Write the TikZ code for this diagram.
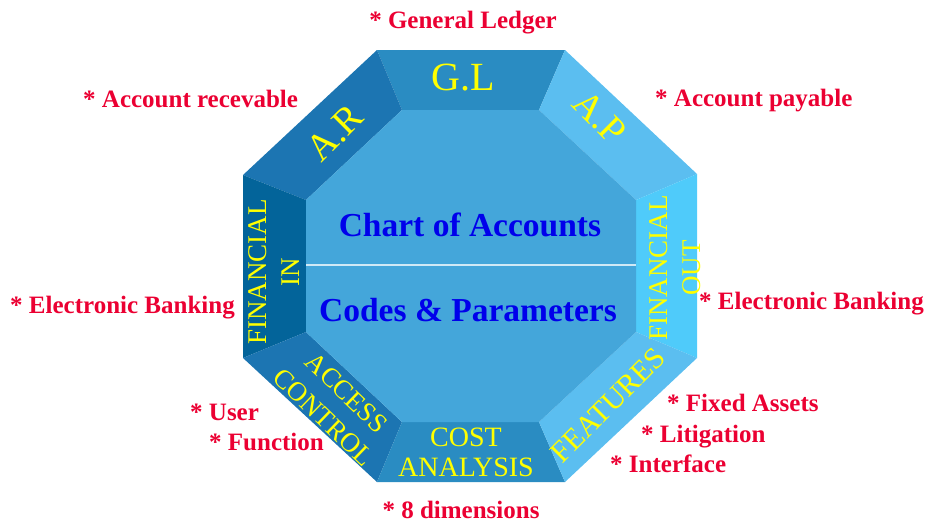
\documentclass[tikz,border=0pt]{standalone}
\usepackage{fontspec}
\setmainfont{Liberation Serif}
\definecolor{red1}{RGB}{235, 0, 50}
\definecolor{yellow1}{RGB}{255, 255, 0}
\definecolor{blue1}{RGB}{0, 0, 235}
\definecolor{panel1}{RGB}{42, 140, 194}
\definecolor{panel2}{RGB}{28, 117, 178}
\definecolor{panel3}{RGB}{91, 190, 240}
\definecolor{panel4}{RGB}{3, 100, 154}
\definecolor{panel5}{RGB}{79, 203, 250}
\definecolor{core1}{RGB}{68, 166, 218}

\begin{document}
\begin{tikzpicture}[x=1pt, y=-1pt,
  note/.style={text=red1, font=\bfseries\fontsize{25}{29}\selectfont, inner sep=0pt, anchor=base west},
  tag/.style={text=yellow1, align=center, inner sep=0pt},
  core/.style={text=blue1, font=\bfseries\fontsize{33.5}{38}\selectfont, inner sep=0pt}]
  \useasboundingbox (0,0) rectangle (926,522);
  % outer and inner corners of the octagon
  \foreach \n/\x/\y in {o1/377/50, o2/565/50, o3/697/174, o4/697/358,
      o5/565/482, o6/377/482, o7/243/358, o8/243/175,
      i1/402/110, i2/539/110, i3/636/200, i4/636/332,
      i5/539/422, i6/402/422, i7/306/332, i8/306/200}
    \coordinate (\n) at (\x,\y);
  \coordinate (d1) at (306,265);
  \coordinate (d2) at (636,265);

  \fill[panel1] (o1) -- (o2) -- (i2) -- (i1) -- cycle;
  \fill[panel2] (o8) -- (o1) -- (i1) -- (i8) -- cycle;
  \fill[panel3] (o2) -- (o3) -- (i3) -- (i2) -- cycle;
  \fill[panel4] (o8) -- (i8) -- (i7) -- (o7) -- cycle;
  \fill[panel5] (i3) -- (o3) -- (o4) -- (i4) -- cycle;
  \fill[panel2] (o7) -- (i7) -- (i6) -- (o6) -- cycle;
  \fill[panel1] (i6) -- (i5) -- (o5) -- (o6) -- cycle;
  \fill[panel3] (i4) -- (o4) -- (o5) -- (i5) -- cycle;
  \fill[core1] (i1) -- (i2) -- (i3) -- (i4) -- (i5) -- (i6) -- (i7) -- (i8) -- cycle;
  \draw[white!75!core1, line width=1.5pt] (d1) -- (d2);

  \node[core] (chart) at (470,225) {Chart of Accounts};
  \node[core] (codes) at (468,310) {Codes \& Parameters};

  \node[tag, font=\fontsize{40}{44}\selectfont] (gl) at (463,78) {G.L};
  \node[tag, font=\fontsize{38}{42}\selectfont, rotate=45] (ar) at (335,133) {A.R};
  \node[tag, font=\fontsize{38}{42}\selectfont, rotate=-45] (ap) at (600,117) {A.P};
  \node[tag, font=\fontsize{27}{33}\selectfont, rotate=90] (finin) at (274,272) {FINANCIAL\\IN};
  \node[tag, font=\fontsize{27}{33}\selectfont, rotate=90] (finout) at (675,268) {FINANCIAL\\OUT};
  \node[tag, font=\fontsize{27}{34}\selectfont, rotate=-44] (access) at (335,405) {ACCESS\\CONTROL};
  \node[tag, font=\fontsize{28}{30}\selectfont] (cost) at (466,452) {COST\\ANALYSIS};
  \node[tag, font=\fontsize{30}{34}\selectfont, rotate=45] (feat) at (608,405) {FEATURES};

  \node[note, anchor=base] (glnote) at (463,28) {* General Ledger};
  \node[note] (arnote) at (83,107) {* Account recevable};
  \node[note] (apnote) at (655,106) {* Account payable};
  \node[note] (bankin) at (10,313) {* Electronic Banking};
  \node[note] (bankout) at (699,309) {* Electronic Banking};
  \node[note] (user) at (190,420) {* User};
  \node[note] (func) at (209,450) {* Function};
  \node[note] (fixed) at (667,411) {* Fixed Assets};
  \node[note] (litig) at (641,442) {* Litigation};
  \node[note] (iface) at (610,472) {* Interface};
  \node[note, anchor=base] (dims) at (461,518) {* 8 dimensions};
\end{tikzpicture}
\end{document}
